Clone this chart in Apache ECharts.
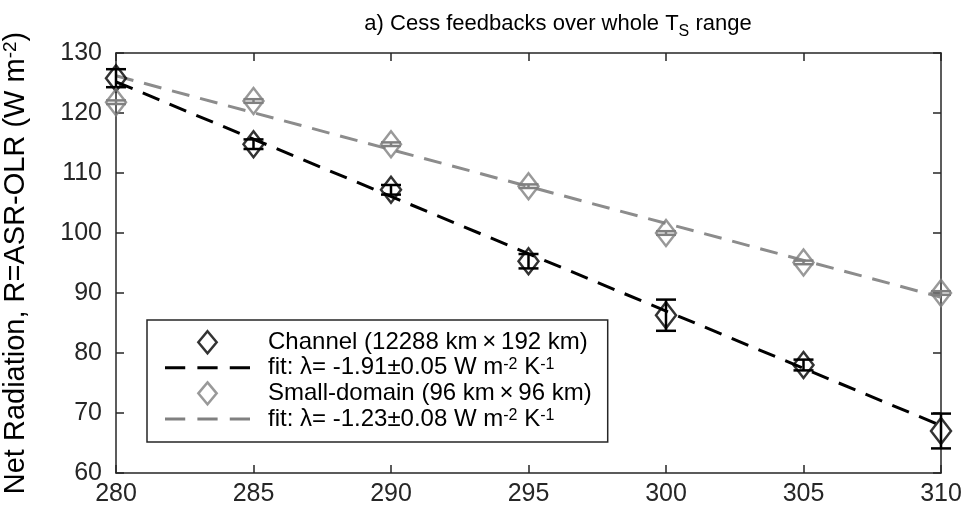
<!DOCTYPE html>
<html>
<head>
<meta charset="utf-8">
<script src="https://cdn.jsdelivr.net/npm/echarts@6/dist/echarts.min.js"></script>
<style>
  html, body { margin: 0; padding: 0; background: #ffffff; }
  #chart { width: 965px; height: 512px; }
</style>
</head>
<body>
<div id="chart"></div>
<script>
// Surface temperature (K) of each simulation
const temps = [280, 285, 290, 295, 300, 305, 310];

// Channel domain (12288 km x 192 km): net radiation and its uncertainty
const channelR = [125.8, 114.8, 107.2, 95.3, 86.3, 78.0, 67.0];
const channelErr = [1.5, 0.8, 0.8, 1.2, 2.6, 0.9, 2.9];

// Small domain (96 km x 96 km): net radiation and its uncertainty
const smallR = [121.8, 122.0, 114.8, 107.8, 100.0, 95.1, 90.0];
const smallErr = [0.3, 0.3, 0.3, 0.3, 0.3, 0.3, 0.3];

// Linear fits, end points over the whole temperature range
const channelFit = [[280, 125.2], [310, 67.9]];
const smallFit = [[280, 126.2], [310, 89.3]];

// Axis ranges
const xMin = 280, xMax = 310, xStep = 5;
const yMin = 60, yMax = 130, yStep = 10;

// Legend entries
const names = {
  channel: 'Channel (12288 km×192 km)',
  channelFit: 'fit: λ= -1.91±0.05 W m-2 K-1',
  small: 'Small-domain (96 km×96 km)',
  smallFit: 'fit: λ= -1.23±0.08 W m-2 K-1'
};
const legendRich = {
  [names.channel]: 'Channel (12288 km\u2009×\u2009192 km)',
  [names.channelFit]: 'fit: λ= -1.91±0.05 W m{sup|-2} K{sup|-1}',
  [names.small]: 'Small-domain (96 km\u2009×\u200996 km)',
  [names.smallFit]: 'fit: λ= -1.23±0.08 W m{sup|-2} K{sup|-1}'
};

const BLACK = '#000000';
const GREY = '#808080';
const AXIS = '#262626';
const FONT = 'Liberation Sans, Arial, Helvetica, sans-serif';

function errorRows(vals, errs) {
  return temps.map((t, i) => [t, vals[i] - errs[i], vals[i] + errs[i]]);
}

function errorBars(color) {
  return function (params, api) {
    const x = api.value(0);
    const top = api.coord([x, api.value(2)]);
    const bot = api.coord([x, api.value(1)]);
    const cap = 10;
    const style = { stroke: color, lineWidth: 2.5, fill: null };
    return {
      type: 'group',
      children: [
        { type: 'line', shape: { x1: top[0], y1: top[1], x2: bot[0], y2: bot[1] }, style },
        { type: 'line', shape: { x1: top[0] - cap, y1: top[1], x2: top[0] + cap, y2: top[1] }, style },
        { type: 'line', shape: { x1: bot[0] - cap, y1: bot[1], x2: bot[0] + cap, y2: bot[1] }, style }
      ]
    };
  };
}

const diamondIcon = 'path://M10,0L20,12L10,24L0,12Z';
const dashIcon = 'path://M0,0H20V3H0Z M32,0H52V3H32Z M64,0H84V3H64Z';

const axisCommon = {
  axisLine: { show: true, lineStyle: { color: AXIS, width: 1.5 } },
  axisTick: { show: true, inside: true, length: 8, lineStyle: { color: AXIS, width: 1.5 } },
  splitLine: { show: false }
};

const chart = echarts.init(document.getElementById('chart'));
chart.setOption({
  animation: false,
  backgroundColor: '#ffffff',
  title: {
    text: 'a) Cess feedbacks over whole T{sub|S} range',
    left: 553, textAlign: 'center', top: 3,
    textStyle: {
      fontFamily: FONT, fontSize: 22, fontWeight: 'normal', color: BLACK, lineHeight: 32,
      rich: { sub: { fontFamily: FONT, fontSize: 16, color: BLACK, verticalAlign: 'bottom', lineHeight: 16 } }
    }
  },
  grid: { left: 116, right: 24, top: 53, bottom: 39, outerBoundsMode: 'none', containLabel: false },
  xAxis: [
    Object.assign({
      type: 'value', position: 'bottom', min: xMin, max: xMax, interval: xStep,
      axisLabel: { color: AXIS, fontFamily: FONT, fontSize: 25, margin: 9 }
    }, axisCommon),
    Object.assign({
      type: 'value', position: 'top', min: xMin, max: xMax, interval: xStep,
      axisLabel: { show: false }
    }, axisCommon)
  ],
  yAxis: [
    Object.assign({
      type: 'value', position: 'left', min: yMin, max: yMax, interval: yStep,
      name: 'Net Radiation, R=ASR-OLR (W m{sup|-2})',
      nameLocation: 'middle', nameRotate: 90, nameGap: 85,
      nameTextStyle: {
        color: BLACK, fontFamily: FONT, fontSize: 29, lineHeight: 30,
        rich: { sup: { fontFamily: FONT, fontSize: 19, color: BLACK, verticalAlign: 'top', lineHeight: 16 } }
      },
      axisLabel: { color: AXIS, fontFamily: FONT, fontSize: 25, margin: 14 }
    }, axisCommon),
    Object.assign({
      type: 'value', position: 'right', min: yMin, max: yMax, interval: yStep,
      axisLabel: { show: false }
    }, axisCommon)
  ],
  legend: {
    orient: 'vertical', left: 147, top: 320,
    padding: [10, 16, 11, 18],
    itemWidth: 85, itemHeight: 22, itemGap: 1.3,
    backgroundColor: '#ffffff',
    borderColor: AXIS, borderWidth: 1.5, borderRadius: 0,
    selectedMode: false,
    formatter: name => legendRich[name],
    textStyle: {
      color: BLACK, fontFamily: FONT, fontSize: 24, lineHeight: 22, padding: [0, 0, 0, 13],
      rich: { sup: { fontFamily: FONT, fontSize: 16, color: BLACK, verticalAlign: 'top', lineHeight: 12 } }
    },
    data: [
      { name: names.channel, icon: diamondIcon, itemStyle: { color: 'rgba(255,255,255,0)', borderColor: BLACK, borderWidth: 2.5 } },
      { name: names.channelFit, icon: dashIcon, itemStyle: { color: BLACK, borderWidth: 0 } },
      { name: names.small, icon: diamondIcon, itemStyle: { color: 'rgba(255,255,255,0)', borderColor: GREY, borderWidth: 2.5 } },
      { name: names.smallFit, icon: dashIcon, itemStyle: { color: GREY, borderWidth: 0 } }
    ]
  },
  series: [
    {
      name: 'channel-err', type: 'custom', renderItem: errorBars(BLACK),
      data: errorRows(channelR, channelErr), z: 3
    },
    {
      name: names.channel, type: 'scatter', symbol: 'diamond', symbolSize: [20, 26],
      data: temps.map((t, i) => [t, channelR[i]]), clip: false,
      itemStyle: { color: 'rgba(255,255,255,0)', borderColor: BLACK, borderWidth: 2.5 }, z: 4
    },
    {
      name: names.channelFit, type: 'line', data: channelFit, symbol: 'none', showSymbol: false,
      lineStyle: { color: BLACK, width: 3, type: [18, 11] }, itemStyle: { color: BLACK }, z: 2
    },
    {
      name: 'small-err', type: 'custom', renderItem: errorBars(GREY),
      data: errorRows(smallR, smallErr), z: 3
    },
    {
      name: names.small, type: 'scatter', symbol: 'diamond', symbolSize: [20, 26],
      data: temps.map((t, i) => [t, smallR[i]]), clip: false,
      itemStyle: { color: 'rgba(255,255,255,0)', borderColor: GREY, borderWidth: 2.5 }, z: 4
    },
    {
      name: names.smallFit, type: 'line', data: smallFit, symbol: 'none', showSymbol: false,
      lineStyle: { color: '#8c8c8c', width: 3, type: [18, 11] }, itemStyle: { color: GREY }, z: 2
    }
  ]
});
</script>
</body>
</html>
